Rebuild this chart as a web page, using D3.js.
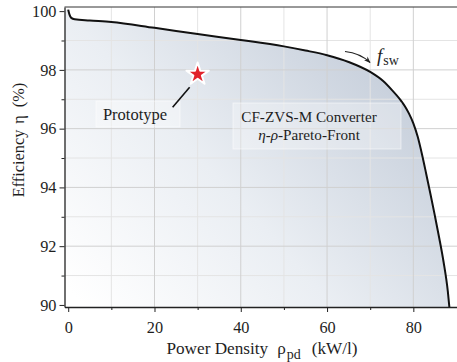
<!DOCTYPE html>
<html><head><meta charset="utf-8">
<script src="https://cdn.jsdelivr.net/npm/d3@7"></script>
<style>
body{margin:0;background:#fff}
svg{display:block}
svg text{font-family:"Liberation Serif","Times New Roman",serif !important;fill:#1e1e1e}
</style>
</head><body><svg id="c" width="457" height="362" style="font-family:'Liberation Serif',serif"></svg>
<script>
// Pareto front data (power density kW/l, efficiency %)
const densityKWl    = [0, 0.3, 0.7, 1.5, 5, 10, 20, 30, 40, 50, 55, 60, 65, 70, 73, 75, 77, 78, 79, 80, 81, 82, 83, 84, 85, 86, 87, 88, 88.35];
const efficiencyPct = [100.05, 99.88, 99.77, 99.72, 99.68, 99.63, 99.43, 99.22, 99.02, 98.8, 98.66, 98.5, 98.27, 97.93, 97.62, 97.32, 96.98, 96.77, 96.51, 96.18, 95.73, 95.13, 94.45, 93.75, 93.03, 92.28, 91.47, 90.45, 89.93];
const prototypeX = [30];
const prototypeY = [97.85];
const xMajorTicks = [0, 20, 40, 60, 80];
const xMinorTicks = [10, 30, 50, 70];
const yMajorTicks = [90, 92, 94, 96, 98, 100];
const yMinorTicks = [91, 93, 95, 97, 99];

(function () {
const FONT = "'Liberation Serif','Times New Roman',serif";
const svg = d3.select("#c");
const pL = 64.5, pR = 457, pT = 7, pB = 307;
const x = d3.scaleLinear().domain([-0.86, 90.12]).range([pL, pR]);
const y = d3.scaleLinear().domain([89.93, 100.14]).range([pB, pT]);

const defs = svg.append("defs");
const grad = defs.append("linearGradient").attr("id", "fillGrad")
  .attr("gradientUnits", "userSpaceOnUse")
  .attr("x1", pL + 20).attr("y1", pB).attr("x2", 390).attr("y2", 30);
grad.append("stop").attr("offset", 0).attr("stop-color", "#ffffff");
grad.append("stop").attr("offset", 0.45).attr("stop-color", "#eaeef3");
grad.append("stop").attr("offset", 1).attr("stop-color", "#c2cbd8");
defs.append("clipPath").attr("id", "clip").append("rect")
  .attr("x", pL).attr("y", pT).attr("width", pR - pL).attr("height", pB - pT);
defs.append("marker").attr("id", "arrow").attr("viewBox", "0 0 10 10")
  .attr("refX", 9).attr("refY", 5).attr("markerWidth", 6).attr("markerHeight", 6)
  .attr("orient", "auto").append("path").attr("d", "M0,1 L10,5 L0,9 L3,5 Z").attr("fill", "#222");

const pts = densityKWl.map((d, i) => [d, efficiencyPct[i]]);
const g = svg.append("g").attr("clip-path", "url(#clip)");

// filled area under the front
const area = d3.area().x(d => x(d[0])).y0(pB).y1(d => y(d[1])).curve(d3.curveMonotoneX);
const areaPts = [[x.domain()[0], efficiencyPct[0]]].concat(pts);
g.append("path").datum(areaPts).attr("d", area).attr("fill", "url(#fillGrad)");

// grid
g.selectAll(".gxm").data(xMinorTicks).join("line")
  .attr("x1", d => x(d)).attr("x2", d => x(d)).attr("y1", pT).attr("y2", pB)
  .attr("stroke", "#e4e4e4").attr("stroke-width", 1);
g.selectAll(".gym").data(yMinorTicks).join("line")
  .attr("y1", d => y(d)).attr("y2", d => y(d)).attr("x1", pL).attr("x2", pR)
  .attr("stroke", "#e4e4e4").attr("stroke-width", 1);
g.selectAll(".gxM").data(xMajorTicks.filter(d => d > 0)).join("line")
  .attr("x1", d => x(d)).attr("x2", d => x(d)).attr("y1", pT).attr("y2", pB)
  .attr("stroke", "#d0d0d0").attr("stroke-width", 1);
g.selectAll(".gyM").data(yMajorTicks.filter(d => d > 90 && d < 100)).join("line")
  .attr("y1", d => y(d)).attr("y2", d => y(d)).attr("x1", pL).attr("x2", pR)
  .attr("stroke", "#d0d0d0").attr("stroke-width", 1);

// front line
const line = d3.line().x(d => x(d[0])).y(d => y(d[1])).curve(d3.curveMonotoneX);
g.append("path").datum(pts).attr("d", line).attr("fill", "none")
  .attr("stroke", "#111").attr("stroke-width", 2);

// frame top
svg.append("line").attr("x1", pL).attr("x2", pR).attr("y1", pT).attr("y2", pT)
  .attr("stroke", "#333").attr("stroke-width", 1);

// axes
svg.append("g").attr("transform", `translate(${pL},0)`)
  .call(d3.axisLeft(y).tickValues(yMajorTicks).tickSize(5).tickSizeOuter(0).tickPadding(3).tickFormat(d3.format("d")));
svg.append("g").attr("transform", `translate(${pL},0)`)
  .call(d3.axisLeft(y).tickValues(yMinorTicks).tickSize(3).tickSizeOuter(0).tickFormat(""))
  .call(a => a.select(".domain").remove());
svg.append("g").attr("transform", `translate(0,${pB})`)
  .call(d3.axisBottom(x).tickValues(xMajorTicks).tickSize(5).tickSizeOuter(0).tickPadding(9).tickFormat(d3.format("d")));
svg.append("g").attr("transform", `translate(0,${pB})`)
  .call(d3.axisBottom(x).tickValues(xMinorTicks).tickSize(3).tickSizeOuter(0).tickFormat(""))
  .call(a => a.select(".domain").remove());
svg.selectAll("g").attr("font-family", null);
svg.selectAll(".tick text").attr("font-size", 16.3).attr("fill", "#1e1e1e");
svg.selectAll(".domain").attr("stroke", "#222").attr("stroke-width", 1.3);
svg.selectAll(".tick line").attr("stroke", "#222");

// axis titles
const yt = svg.append("text").attr("transform", "translate(24,140) rotate(-90)")
  .attr("text-anchor", "middle").attr("font-size", 16.3);
yt.append("tspan").text("Efficiency");
yt.append("tspan").attr("dx", 6).text("η");
yt.append("tspan").attr("dx", 8).text("(%)");

const xt = svg.append("text").attr("x", 262).attr("y", 354).attr("text-anchor", "middle").attr("font-size", 17.2);
xt.append("tspan").text("Power Density");
xt.append("tspan").attr("dx", 9).text("ρ");
xt.append("tspan").attr("font-size", 14).attr("dy", 5).attr("dx", 1).text("pd");
xt.append("tspan").attr("dy", -5).attr("dx", 11).text("(kW/l)");

// prototype star + leader
const sx = x(prototypeX[0]), sy = y(prototypeY[0]);
svg.append("rect").attr("x", 96).attr("y", 101).attr("width", 84).attr("height", 26)
  .attr("fill", "#ffffff").attr("fill-opacity", 0.35).attr("stroke", "#ffffff").attr("stroke-opacity", 0.5);
svg.append("line").attr("x1", sx - 8).attr("y1", sy + 13).attr("x2", sx - 25).attr("y2", sy + 33)
  .attr("stroke", "#111").attr("stroke-width", 1.6);
svg.selectAll(".star").data(prototypeX).join("path")
  .attr("transform", (d, i) => `translate(${x(d)},${y(prototypeY[i])})`)
  .attr("d", d3.symbol(d3.symbolStar, 155)())
  .attr("fill", "#e1222b").attr("stroke", "#ffffff").attr("stroke-width", 2).attr("stroke-linejoin", "round");
svg.append("text").attr("x", 135).attr("y", 120).attr("text-anchor", "middle")
  .attr("font-size", 16.5).text("Prototype");

// CF-ZVS-M label
svg.append("rect").attr("x", 233).attr("y", 103).attr("width", 168).attr("height", 46)
  .attr("fill", "#ffffff").attr("fill-opacity", 0.3).attr("stroke", "#ffffff").attr("stroke-opacity", 0.5);
svg.append("text").attr("x", 309).attr("y", 122).attr("text-anchor", "middle")
  .attr("font-size", 15.2).text("CF-ZVS-M Converter");
const t2 = svg.append("text").attr("x", 309).attr("y", 140).attr("text-anchor", "middle").attr("font-size", 15.2);
t2.append("tspan").attr("font-style", "italic").text("η");
t2.append("tspan").text("-");
t2.append("tspan").attr("font-style", "italic").text("ρ");
t2.append("tspan").text("-Pareto-Front");

// f_sw arrow
svg.append("path").attr("d", "M345,51.5 Q360,53 370,62.5").attr("fill", "none")
  .attr("stroke", "#222").attr("stroke-width", 1.1).attr("marker-end", "url(#arrow)");
const fs = svg.append("text").attr("x", 377).attr("y", 62).attr("font-size", 19);
fs.append("tspan").attr("font-style", "italic").text("f");
fs.append("tspan").attr("font-size", 14).attr("dy", 3).attr("dx", 1).text("sw");

svg.selectAll("text").style("font-family", FONT);
})();
</script>
</body></html>
